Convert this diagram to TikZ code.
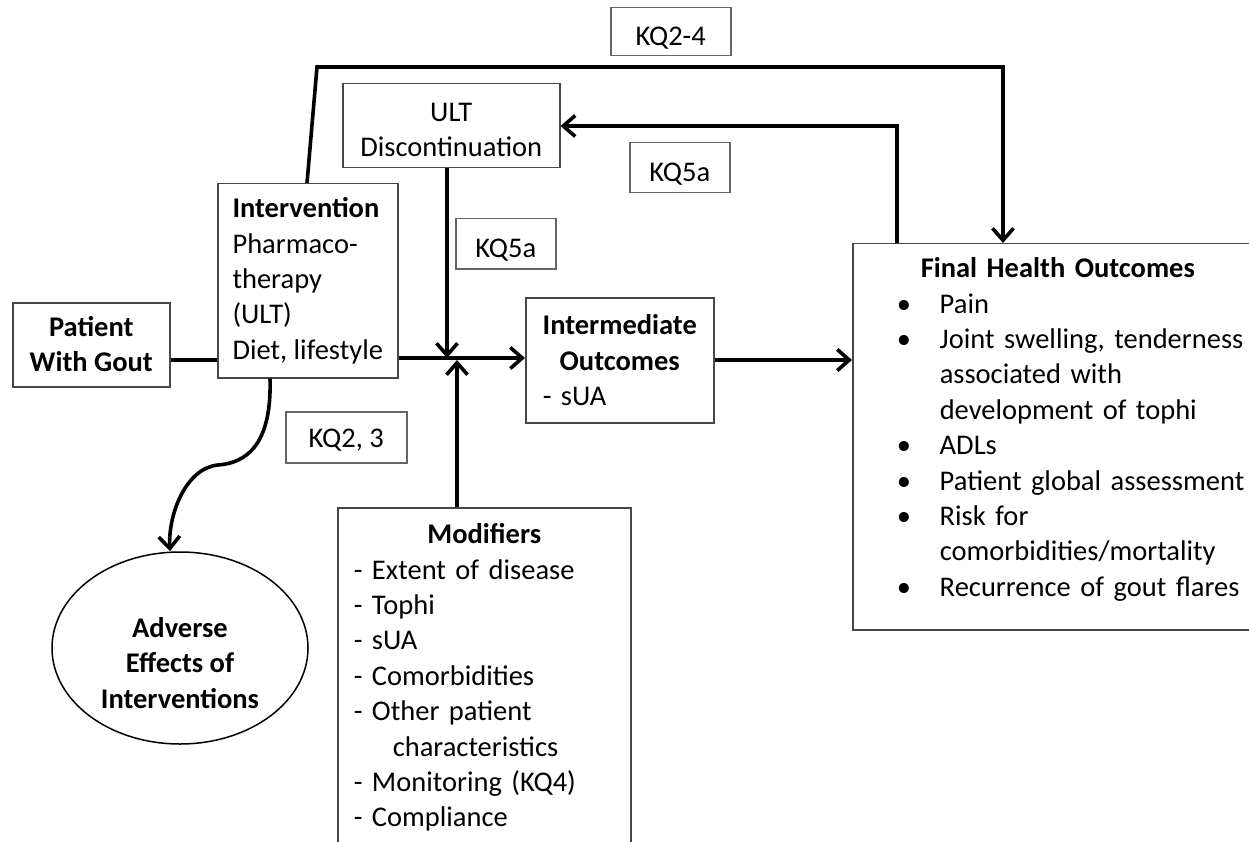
\documentclass[tikz,border=0pt]{standalone}
\usepackage{fontspec}
\setmainfont{Carlito}
\usetikzlibrary{arrows.meta,shapes.geometric,calc}
\newcommand\dfs{\fontsize{28.5pt}{35.4pt}\selectfont}
\newcommand\bulit{\makebox[41pt][l]{\hspace*{-2pt}•}}
\newcommand\indit{\hspace*{41pt}}
\tikzset{
  box/.style={draw=black!72, line width=1.5pt, inner sep=0pt, font=\dfs, anchor=north west},
  kqbox/.style={box, draw=black!60, align=center},
  conn/.style={line width=3.6pt, draw=black},
  >={Straight Barb[length=12pt,width=21pt]}
}
\begin{document}
\begin{tikzpicture}[x=1pt,y=-1pt]
\path[use as bounding box] (0,0) rectangle (1249,842);
\clip (0,0) rectangle (1249,842);
\fill[white] (0,0) rectangle (1249,842);

% boxes
\node[box, align=center, minimum width=157pt, text height=69pt, text depth=15pt] (patient) at (12,302)
  {\textbf{Patient}\\\textbf{With Gout}};
\node[box, align=left, minimum width=180pt, text height=175.6pt, text depth=18.4pt] (interv) at (217,183)
  {\textbf{Intervention}\\Pharmaco-\\therapy\\(ULT)\\Diet, lifestyle};
\node[box, align=center, minimum width=217pt, text height=73pt, text depth=11pt] (ult) at (342,83)
  {ULT\\Discontinuation};
\node[box, align=left, inner xsep=17pt, text width=154pt, text height=37pt, text depth=88pt] (inter) at (525,297)
  {\makebox[154pt][c]{\textbf{Intermediate}}\\\makebox[154pt][c]{\textbf{Outcomes}}\\- sUA};
\node[box, align=left, inner xsep=46pt, text width=400pt, text height=34pt, text depth=352pt] (final) at (852,243)
  {\hspace*{22pt}\textbf{Final Health Outcomes}\\
   \bulit Pain\\
   \bulit Joint swelling, tenderness\\
   \indit associated with\\
   \indit development of tophi\\
   \bulit ADLs\\
   \bulit Patient global assessment\\
   \bulit Risk for\\
   \indit comorbidities/mortality\\
   \bulit Recurrence of gout flares};
\node[box, align=left, inner xsep=16pt, text width=261pt, text height=36pt, text depth=400pt] (mod) at (337,507)
  {\makebox[261pt][c]{\textbf{Modifiers}}\\
   - Extent of disease\\
   - Tophi\\
   - sUA\\
   - Comorbidities\\
   - Other patient\\
   \hspace*{39pt}characteristics\\
   - Monitoring (KQ4)\\
   - Compliance};
\node[draw=black, line width=1.5pt, ellipse, inner sep=0pt, minimum width=256pt, minimum height=192pt,
      align=center, font=\dfs\bfseries, text height=125pt, text depth=5pt] (adv) at (180,648)
  {Adverse\\Effects of\\Interventions};

% KQ labels
\node[kqbox, minimum width=120pt, text height=38pt, text depth=10pt] (kq24) at (610,7) {KQ2-4};
\node[kqbox, minimum width=100pt, text height=39pt, text depth=11pt] (kq5top) at (629,142) {KQ5a};
\node[kqbox, minimum width=100pt, text height=39pt, text depth=11pt] (kq5mid) at (455,218) {KQ5a};
\node[kqbox, minimum width=121pt, text height=36pt, text depth=15pt] (kq23) at (285,411) {KQ2, 3};

% helper coordinates
\coordinate (yMain) at (0,358);
\coordinate (yLow) at (0,360);
\coordinate (xDown) at (447,0);
\coordinate (xUp) at (457,0);
\coordinate (xTop0) at (307,0);
\coordinate (topL) at (317,67);
\coordinate (topR) at (1003,67);
\coordinate (backR) at (897,126);
\coordinate (xCurve) at (270,0);
\coordinate (bend) at (218,465);

% connectors
\draw[conn] (patient.east |- yLow) -- (interv.west |- yLow);
\draw[conn,->] (interv.east |- yMain) -- (inter.west |- yMain);
\draw[conn,->] (ult.south -| xDown) -- (xDown |- yMain);
\draw[conn,->] (mod.north -| xUp) -- (xUp |- yLow);
\draw[conn,->] (inter.east |- yLow) -- (final.west |- yLow);
\draw[conn,->] (interv.north -| xTop0) -- (topL) -- (topR) -- (final.north -| topR);
\draw[conn,->] (final.north -| backR) -- (backR) -- (ult.east |- backR);
\draw[conn,->] (interv.south -| xCurve) .. controls +(2,68) and +(27,-2) .. (bend)
   .. controls +(-32,3) and +(-2,-37) .. ($(adv.north)+(-10,0)$);
\end{tikzpicture}
\end{document}
